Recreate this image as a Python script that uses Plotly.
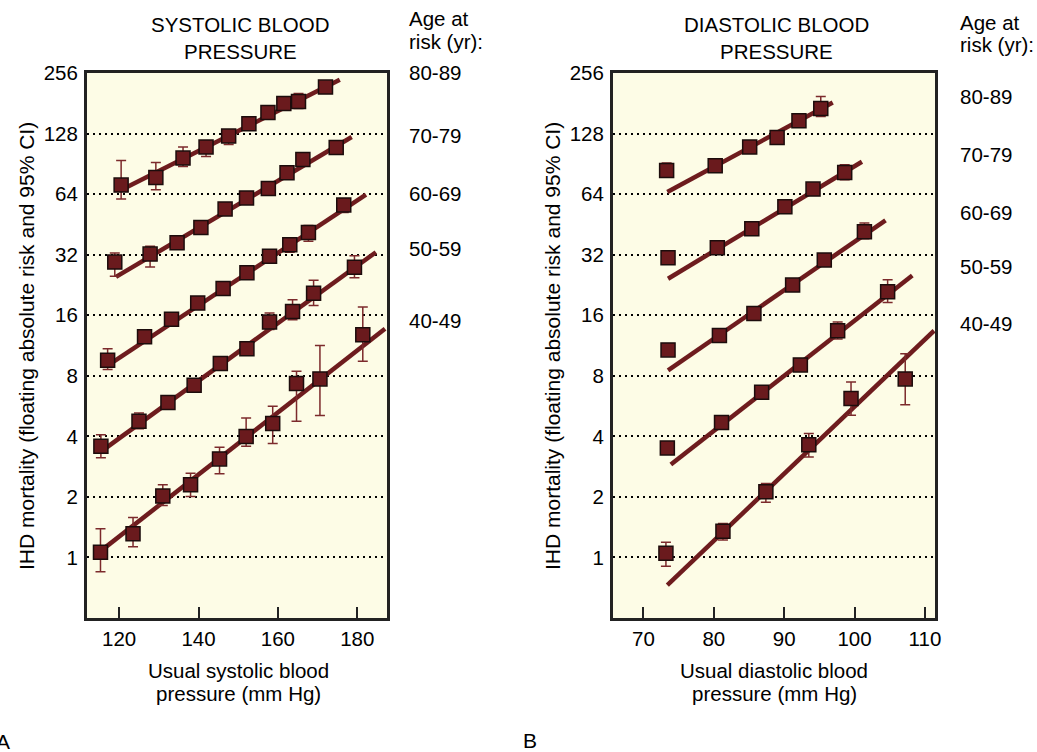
import math
import plotly.graph_objects as go

W, H = 1037, 752

AGE_GROUPS = ["40-49", "50-59", "60-69", "70-79", "80-89"]

# ---- Systolic blood pressure (mm Hg): floating absolute risk, 95% CI ----
SYS_40_X = [115.3, 123.5, 131.0, 138.0, 145.3, 152.0, 158.7, 164.7, 170.6, 181.4]
SYS_40_RISK = [1.06, 1.31, 2.02, 2.30, 3.09, 3.99, 4.63, 7.32, 7.72, 12.8]
SYS_40_LO = [0.85, 1.13, 1.81, 2.01, 2.61, 3.57, 3.68, 4.75, 5.07, 9.44]
SYS_40_HI = [1.39, 1.58, 2.30, 2.62, 3.53, 4.94, 5.64, 8.42, 11.3, 17.6]

SYS_50_X = [115.4, 125.0, 132.3, 138.9, 145.5, 152.2, 157.9, 163.7, 169.0, 179.3]
SYS_50_RISK = [3.57, 4.75, 5.89, 7.18, 9.2, 10.9, 14.8, 16.7, 20.6, 27.7]
SYS_50_LO = [3.13, 4.36, 5.55, 6.8, 8.75, 10.4, 13.6, 15.2, 17.9, 24.6]
SYS_50_HI = [4.07, 5.23, 6.25, 7.6, 9.65, 11.5, 16.4, 19.1, 23.9, 31.6]

SYS_60_X = [117.1, 126.4, 133.2, 139.8, 146.2, 152.2, 157.9, 163.0, 167.7, 176.6]
SYS_60_RISK = [9.55, 12.5, 15.3, 18.4, 21.7, 26.0, 31.4, 35.8, 41.3, 56.5]
SYS_60_LO = [8.59, 11.6, 14.6, 17.6, 20.8, 25.0, 30.0, 32.9, 37.3, 51.9]
SYS_60_HI = [10.9, 13.3, 16.0, 19.2, 22.6, 27.0, 32.8, 38.0, 44.7, 60.5]

SYS_70_X = [118.9, 127.8, 134.6, 140.6, 146.7, 152.1, 157.6, 162.3, 166.3, 174.7]
SYS_70_RISK = [29.4, 32.2, 36.7, 43.7, 54.0, 61.2, 68.3, 81.8, 95.2, 109.2]
SYS_70_LO = [25.0, 27.8, 34.0, 41.5, 51.5, 58.5, 65.0, 78.0, 90.0, 104.0]
SYS_70_HI = [32.6, 35.2, 39.6, 46.0, 56.5, 64.0, 71.5, 86.0, 100.0, 114.0]

SYS_80_X = [120.5, 129.25, 136.1, 141.9, 147.6, 152.7, 157.5, 161.5, 165.2, 172.0]
SYS_80_RISK = [71.0, 77.5, 96.7, 109.7, 124.4, 143.0, 163.0, 180.6, 184.8, 217.9]
SYS_80_LO = [60.5, 67.3, 87.8, 98.5, 113.0, 135.0, 154.0, 172.0, 170.6, 208.0]
SYS_80_HI = [94.0, 92.0, 109.7, 117.8, 131.0, 152.0, 174.0, 190.0, 202.5, 228.0]

# fitted regression lines (start / end of each age group)
SYS_FIT_X0 = [115.3, 115.4, 118.5, 119.2, 121.0]
SYS_FIT_X1 = [187.0, 184.7, 182.2, 178.6, 175.6]
SYS_FIT_R0 = [1.075, 3.36, 9.38, 24.8, 67.8]
SYS_FIT_R1 = [13.7, 32.9, 63.6, 123.0, 236.9]

# ---- Diastolic blood pressure (mm Hg) ----
DIA_40_X = [73.2, 81.3, 87.4, 93.5, 99.5, 107.2]
DIA_40_RISK = [1.05, 1.35, 2.12, 3.63, 6.16, 7.72]
DIA_40_LO = [0.905, 1.22, 1.88, 3.16, 5.09, 5.75]
DIA_40_HI = [1.19, 1.475, 2.33, 4.13, 7.46, 10.3]

DIA_50_X = [73.4, 81.1, 86.8, 92.3, 97.6, 104.7]
DIA_50_RISK = [3.5, 4.68, 6.62, 9.06, 13.4, 20.96]
DIA_50_LO = [3.3, 4.5, 6.35, 8.7, 12.2, 18.5]
DIA_50_HI = [3.7, 4.87, 6.9, 9.45, 14.8, 24.0]

DIA_60_X = [73.5, 80.8, 85.7, 91.2, 95.7, 101.4]
DIA_60_RISK = [10.76, 12.7, 16.3, 22.6, 30.1, 41.6]
DIA_60_LO = [10.3, 12.2, 15.7, 21.7, 28.9, 38.4]
DIA_60_HI = [11.2, 13.2, 16.9, 23.5, 31.3, 46.0]

DIA_70_X = [73.5, 80.5, 85.4, 90.1, 94.1, 98.6]
DIA_70_RISK = [30.9, 34.6, 43.1, 55.4, 67.8, 82.0]
DIA_70_LO = [29.5, 33.0, 41.3, 53.0, 65.0, 75.5]
DIA_70_HI = [32.3, 36.2, 45.0, 58.0, 70.8, 89.6]

DIA_80_X = [73.3, 80.2, 85.1, 89.0, 92.1, 95.2]
DIA_80_RISK = [83.9, 88.6, 109.7, 122.4, 148.2, 170.6]
DIA_80_LO = [77.8, 85.0, 105.0, 116.0, 138.8, 155.7]
DIA_80_HI = [91.3, 92.0, 114.0, 128.0, 160.0, 195.6]

DIA_FIT_X0 = [73.4, 73.9, 73.5, 73.5, 73.4]
DIA_FIT_X1 = [111.3, 108.2, 104.4, 101.05, 96.9]
DIA_FIT_R0 = [0.728, 2.90, 8.52, 24.3, 65.6]
DIA_FIT_R1 = [13.4, 25.2, 47.4, 92.7, 182.6]

Y_TICKS = [1, 2, 4, 8, 16, 32, 64, 128, 256]
SYS_X_TICKS = [120, 140, 160, 180]
DIA_X_TICKS = [70, 80, 90, 100, 110]

SYS_SERIES = [
    (SYS_40_X, SYS_40_RISK, SYS_40_LO, SYS_40_HI),
    (SYS_50_X, SYS_50_RISK, SYS_50_LO, SYS_50_HI),
    (SYS_60_X, SYS_60_RISK, SYS_60_LO, SYS_60_HI),
    (SYS_70_X, SYS_70_RISK, SYS_70_LO, SYS_70_HI),
    (SYS_80_X, SYS_80_RISK, SYS_80_LO, SYS_80_HI),
]
DIA_SERIES = [
    (DIA_40_X, DIA_40_RISK, DIA_40_LO, DIA_40_HI),
    (DIA_50_X, DIA_50_RISK, DIA_50_LO, DIA_50_HI),
    (DIA_60_X, DIA_60_RISK, DIA_60_LO, DIA_60_HI),
    (DIA_70_X, DIA_70_RISK, DIA_70_LO, DIA_70_HI),
    (DIA_80_X, DIA_80_RISK, DIA_80_LO, DIA_80_HI),
]

LINE_COLOR = "#6e1c1e"
MARKER_COLOR = "#6a1a1d"
ERR_COLOR = "#7c2a2c"
FONT = "Liberation Sans, Arial, Helvetica, sans-serif"

fig = go.Figure()


def add_panel(series, fx0, fx1, fr0, fr1, xa, ya):
    # regression lines underneath
    for i in range(len(AGE_GROUPS)):
        fig.add_trace(go.Scatter(
            x=[fx0[i], fx1[i]], y=[fr0[i], fr1[i]], mode="lines",
            line=dict(color=LINE_COLOR, width=4.5),
            xaxis=xa, yaxis=ya, showlegend=False, hoverinfo="skip"))
    # observed points with confidence intervals
    for (xs, risk, lo, hi), grp in zip(series, AGE_GROUPS):
        fig.add_trace(go.Scatter(
            x=xs, y=risk, mode="markers", name=grp,
            marker=dict(symbol="square", size=14, color=MARKER_COLOR,
                        line=dict(color="#1c0c0c", width=1.5)),
            error_y=dict(type="data", symmetric=False,
                         array=[h - r for h, r in zip(hi, risk)],
                         arrayminus=[r - l for r, l in zip(risk, lo)],
                         color=ERR_COLOR, thickness=1.5, width=5),
            xaxis=xa, yaxis=ya, showlegend=False))


add_panel(SYS_SERIES, SYS_FIT_X0, SYS_FIT_X1, SYS_FIT_R0, SYS_FIT_R1, "x", "y")
add_panel(DIA_SERIES, DIA_FIT_X0, DIA_FIT_X1, DIA_FIT_R0, DIA_FIT_R1, "x2", "y2")


def px(x):
    return x / W


def py(y):
    return 1 - y / H


y_dom = [py(618), py(73)]

common_x = dict(
    showgrid=False, zeroline=False, showline=True, mirror=True,
    linecolor="#222222", linewidth=3, automargin=False,
    ticks="inside", ticklen=11, tickwidth=2, tickcolor="#222222",
    tickfont=dict(family=FONT, size=20.5, color="black"),
    ticklabelstandoff=0,
)
common_y = dict(
    type="log", range=[math.log10(0.5), math.log10(256)],
    tickvals=Y_TICKS, ticktext=[str(v) for v in Y_TICKS],
    showgrid=True, gridcolor="black", gridwidth=2, griddash="2px,4px",
    zeroline=False, showline=True, mirror=True, automargin=False,
    linecolor="#222222", linewidth=3, ticks="",
    tickfont=dict(family=FONT, size=20.5, color="black"),
    ticklabelstandoff=2,
)

fig.update_layout(
    width=W, height=H,
    margin=dict(l=0, r=0, t=0, b=0, autoexpand=False),
    paper_bgcolor="white", plot_bgcolor="#fdfce6",
    font=dict(family=FONT, size=20.5, color="black"),
    showlegend=False,
    xaxis=dict(domain=[px(87), px(387)], range=[111.9, 187.5],
               tickvals=SYS_X_TICKS, anchor="y", **common_x),
    yaxis=dict(domain=y_dom, anchor="x", **common_y),
    xaxis2=dict(domain=[px(613), px(935)], range=[65.68, 111.43],
                tickvals=DIA_X_TICKS, anchor="y2", **common_x),
    yaxis2=dict(domain=y_dom, anchor="x2", **common_y),
)

ann = []


def text(x, y, s, size=20.5, xanchor="center", angle=0):
    ann.append(dict(x=px(x), y=py(y), xref="paper", yref="paper", text=s,
                    showarrow=False, xanchor=xanchor, yanchor="middle",
                    textangle=angle,
                    font=dict(family=FONT, size=size, color="black")))


# panel titles
text(240, 25, "SYSTOLIC BLOOD")
text(240, 51, "PRESSURE")
text(776, 25, "DIASTOLIC BLOOD")
text(776, 51, "PRESSURE")

# axis titles
text(238, 670, "Usual systolic blood")
text(238, 693, "pressure (mm Hg)")
text(774, 670, "Usual diastolic blood")
text(774, 693, "pressure (mm Hg)")
text(26, 346, "IHD mortality (floating absolute risk and 95% CI)", size=21, angle=-90)
text(552, 346, "IHD mortality (floating absolute risk and 95% CI)", size=21, angle=-90)

# age group headers and labels
text(407, 19, "Age at", xanchor="left")
text(407, 42, "risk (yr):", xanchor="left")
text(958, 22, "Age at", xanchor="left")
text(958, 44, "risk (yr):", xanchor="left")
for lab, y in zip(AGE_GROUPS, [321, 249, 193, 135, 73]):
    text(407, y, lab, xanchor="left")
for lab, y in zip(AGE_GROUPS, [323, 266, 213, 155, 97]):
    text(958, y, lab, xanchor="left")

# panel letters
text(3, 741, "A", size=21)
text(530, 740, "B", size=21)

fig.update_layout(annotations=ann)

fig.write_html("out.html")
